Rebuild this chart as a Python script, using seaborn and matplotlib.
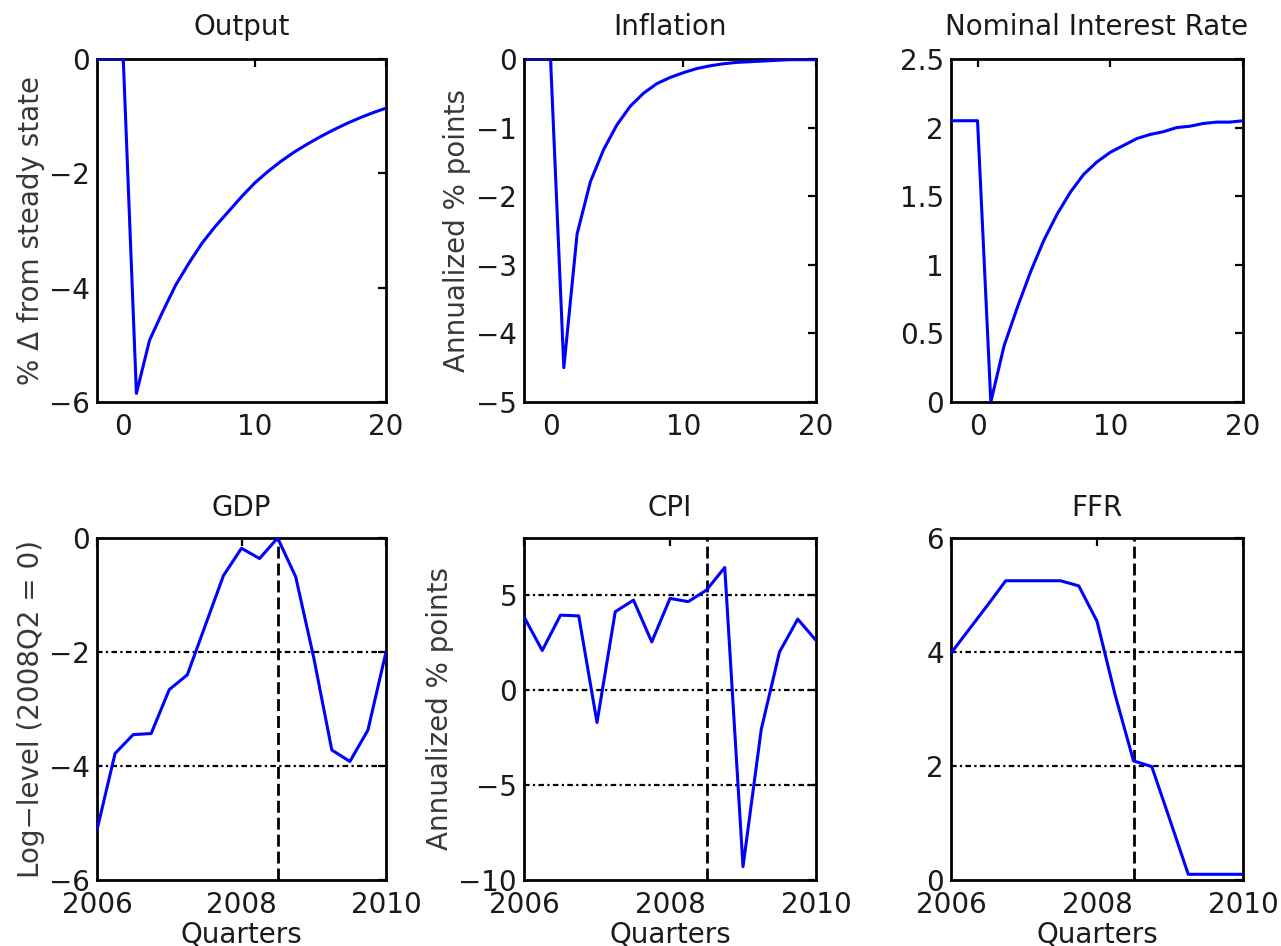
import numpy as np
import pandas as pd
import matplotlib
matplotlib.use("Agg")
import matplotlib.pyplot as plt
import seaborn as sns

# ---------------- data ----------------
horizon = [-2, -1, 0, 1, 2, 3, 4, 5, 6, 7, 8, 9, 10, 11, 12, 13, 14, 15, 16, 17, 18, 19, 20]
output_irf = [0, 0, 0, -5.85, -4.92, -4.42, -3.95, -3.57, -3.22, -2.93, -2.67, -2.41,
              -2.17, -1.97, -1.79, -1.63, -1.49, -1.36, -1.24, -1.13, -1.03, -0.94, -0.86]
inflation_irf = [0, 0, 0, -4.5, -2.55, -1.79, -1.32, -0.96, -0.69, -0.50, -0.36, -0.27,
                 -0.20, -0.14, -0.10, -0.07, -0.05, -0.04, -0.03, -0.02, -0.01, -0.01, -0.01]
nominal_irf = [2.05, 2.05, 2.05, 0.0, 0.41, 0.69, 0.95, 1.18, 1.37, 1.53, 1.66, 1.75,
               1.82, 1.87, 1.92, 1.95, 1.97, 2.00, 2.01, 2.03, 2.04, 2.04, 2.05]

quarters = ["2005Q4",
            "2006Q1", "2006Q2", "2006Q3", "2006Q4",
            "2007Q1", "2007Q2", "2007Q3", "2007Q4",
            "2008Q1", "2008Q2", "2008Q3", "2008Q4",
            "2009Q1", "2009Q2", "2009Q3", "2009Q4"]
gdp = [-5.12, -3.78, -3.45, -3.43, -2.66, -2.40, -1.53, -0.66, -0.18, -0.36, 0.0,
       -0.68, -2.10, -3.72, -3.92, -3.37, -2.00]
cpi = [3.85, 2.08, 3.94, 3.90, -1.71, 4.12, 4.73, 2.53, 4.82, 4.65, 5.26, 6.45,
       -9.30, -2.07, 2.00, 3.73, 2.61]
ffr = [3.98, 4.40, 4.82, 5.25, 5.25, 5.25, 5.25, 5.16, 4.54, 3.24, 2.09, 1.99,
       1.05, 0.10, 0.10, 0.10, 0.10]
marker_quarter = "2008Q2"

top_titles = ["Output", "Inflation", "Nominal Interest Rate"]
bottom_titles = ["GDP", "CPI", "FFR"]


def q_to_num(q):
    y, qq = q.split("Q")
    return int(y) + int(qq) / 4.0


qx = [q_to_num(q) for q in quarters]
marker_x = q_to_num(marker_quarter)

# ---------------- style ----------------
sns.set_style("white")
plt.rcParams["font.family"] = ["DejaVu Sans"]
plt.rcParams["axes.unicode_minus"] = True

FS = 20
TXT = "#1a1a1a"
LBL = "#383838"
BLUE = "#0000ff"

fig = plt.figure(figsize=(12.81, 9.46), dpi=100)
W, H = 1281, 946


def box(l, r, t, b):
    return [l / W, 1 - b / H, (r - l) / W, (b - t) / H]


def style_axes(ax):
    for sp in ax.spines.values():
        sp.set_visible(True)
        sp.set_color("black")
        sp.set_linewidth(2)
    ax.tick_params(direction="in", top=True, right=True, length=6, width=1.6,
                   labelsize=FS, labelcolor=TXT, color="black")
    ax.tick_params(axis="x", pad=8)
    ax.tick_params(axis="y", pad=5)


def fmt(v):
    s = ("%g" % v)
    return s.replace("-", "\u2212")


grid_ls = (0, (2.5, 1.5, 1, 1.5))
vline_ls = (0, (4.3, 1.8))

panels = [
    # (box, x, y, title, ylabel, xlim, ylim, xticks, yticks, grid, vline, xlabel, ylabel_x, title_pad)
    (box(97, 386, 59, 402), horizon, output_irf, top_titles[0], "% \u0394 from steady state",
     (-2, 20), (-6, 0), [0, 10, 20], [-6, -4, -2, 0], False, False, None, -0.18, 17),
    (box(524, 816, 59, 402), horizon, inflation_irf, top_titles[1], "Annualized % points",
     (-2, 20), (-5, 0), [0, 10, 20], [-5, -4, -3, -2, -1, 0], False, False, None, -0.18, 17),
    (box(951, 1243, 59, 402), horizon, nominal_irf, top_titles[2], None,
     (-2, 20), (0, 2.5), [0, 10, 20], [0, 0.5, 1, 1.5, 2, 2.5], False, False, None, None, 17),
    (box(97, 386, 538, 880), qx, gdp, bottom_titles[0], "Log\u2212level (2008Q2 = 0)",
     (2006, 2010), (-6, 0), [2006, 2008, 2010], [-6, -4, -2, 0], True, True, "Quarters", -0.18, 16),
    (box(524, 816, 538, 880), qx, cpi, bottom_titles[1], "Annualized % points",
     (2006, 2010), (-10, 8), [2006, 2008, 2010], [-10, -5, 0, 5], True, True, "Quarters", -0.24, 16),
    (box(951, 1243, 538, 880), qx, ffr, bottom_titles[2], None,
     (2006, 2010), (0, 6), [2006, 2008, 2010], [0, 2, 4, 6], True, True, "Quarters", None, 16),
]

for (bx, xs, ys, title, ylabel, xlim, ylim, xt, yt, grid, vline, xlabel, ylx, tpad) in panels:
    ax = fig.add_axes(bx)
    df = pd.DataFrame({"x": xs, "y": ys})
    sns.lineplot(data=df, x="x", y="y", ax=ax, color=BLUE, linewidth=2.2,
                 estimator=None, sort=False, zorder=3)
    ax.set_xlim(*xlim)
    ax.set_ylim(*ylim)
    ax.set_xticks(xt)
    ax.set_xticklabels([fmt(v) for v in xt])
    ax.set_yticks(yt)
    ax.set_yticklabels([fmt(v) for v in yt])
    style_axes(ax)
    if grid:
        for v in yt:
            if ylim[0] < v < ylim[1]:
                ax.axhline(v, color="black", linewidth=1.6, linestyle=grid_ls, zorder=2)
    if vline:
        ax.axvline(marker_x, color="black", linewidth=2, linestyle=vline_ls, zorder=2)
    ax.set_title(title, fontsize=FS, pad=tpad, color=TXT)
    if ylabel:
        ax.set_ylabel(ylabel, fontsize=FS, color=LBL)
        ax.yaxis.set_label_coords(ylx, 0.5)
    else:
        ax.set_ylabel("")
    if xlabel:
        ax.set_xlabel(xlabel, fontsize=FS, color=TXT)
        ax.xaxis.set_label_coords(0.5, -0.118)
    else:
        ax.set_xlabel("")

fig.savefig("out.png", dpi=100, facecolor="white")
